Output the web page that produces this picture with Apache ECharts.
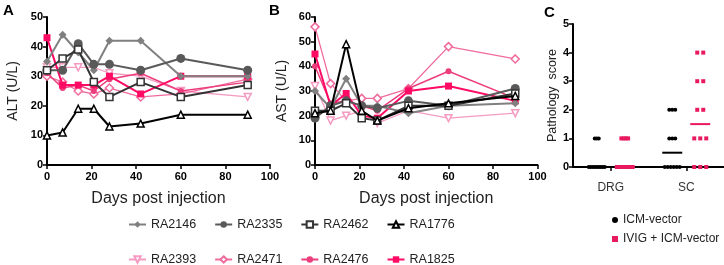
<!DOCTYPE html>
<html>
<head>
<meta charset="utf-8">
<script src="https://cdn.jsdelivr.net/npm/echarts@6/dist/echarts.min.js"></script>
<style>
html,body{margin:0;padding:0;background:#fff;}
#chart{width:724px;height:265px;}
</style>
</head>
<body>
<div id="chart"></div>
<script>
// ---------------- DATA ----------------
const days = [0, 7, 14, 21, 28, 42, 60, 90];
const animals = ['RA2146', 'RA2335', 'RA2462', 'RA1776', 'RA2393', 'RA2471', 'RA2476', 'RA1825'];

// ALT (U/L)
const altRA2146 = [35, 44, 38, 32, 42, 42, 30, 30];
const altRA2335 = [32, 32, 41, 34, 34, 32, 36, 32];
const altRA2462 = [32, 36, 39, 28, 23, 28, 23, 27];
const altRA1776 = [10, 11, 19, 19, 13, 14, 17, 17];
const altRA2393 = [33, 33, 33, 33, 31, 30, 25, 23];
const altRA2471 = [30, 28, 25, 24, 26, 23, 24, 29];
const altRA2476 = [31, 26, 27, 25, 29, 31, 25, 28];
const altRA1825 = [43, 27, 27, 27, 30, 24, 30, 30];

// AST (U/L)
const astRA2146 = [30, 23, 35, 24, 24, 21, 24, 25];
const astRA2335 = [19, 24, 26, 24, 23, 26, 24, 31];
const astRA2462 = [22, 22, 25, 19, 18, 24, 24, 29];
const astRA1776 = [21, 22, 49, 22, 18, 23, 25, 28];
const astRA2393 = [32, 18, 20, 22, 17, 22, 19, 21];
const astRA2471 = [56, 33, 26, 27, 27, 31, 48, 43];
const astRA2476 = [40, 25, 26, 24, 22, 31, 38, 27];
const astRA1825 = [45, 24, 29, 20, 19, 30, 32, 26];

// Pathology scores
const pathCategories = ['DRG', 'SC'];
const pathGroups = ['ICM-vector', 'IVIG + ICM-vector'];
const icmDRG  = [1, 1, 1, 0, 0, 0, 0, 0, 0, 0, 0, 0];
const icmSC   = [2, 2, 2, 1, 1, 1, 0, 0, 0, 0, 0, 0];
const ivigDRG = [1, 1, 1, 1, 0, 0, 0, 0, 0, 0, 0, 0];
const ivigSC  = [4, 4, 3, 3, 2, 2, 1, 1, 1, 0, 0, 0];

const xTicks = [0, 20, 40, 60, 80, 100];

// ---------------- STYLE ----------------
const FONT = 'Liberation Sans, Arial, sans-serif';
const styles = {
  RA2146: {color: '#808080', symbol: 'diamond', size: 8, open: false, lw: 2},
  RA2335: {color: '#595959', symbol: 'circle', size: 9, open: false, lw: 2},
  RA2462: {color: '#333333', symbol: 'rect', size: 7, open: true, lw: 2},
  RA1776: {color: '#000000', symbol: 'triangle', size: 7, open: true, lw: 2},
  RA2393: {color: '#f59bc2', symbol: 'triangle', size: 7, open: true, lw: 1.3, rotate: 180},
  RA2471: {color: '#f06b9d', symbol: 'diamond', size: 8, open: true, lw: 1.3},
  RA2476: {color: '#ec3d7c', symbol: 'circle', size: 6, open: false, lw: 1.5},
  RA1825: {color: '#ff0a64', symbol: 'rect', size: 7, open: false, lw: 2}
};
const altData = {RA2146: altRA2146, RA2335: altRA2335, RA2462: altRA2462, RA1776: altRA1776,
                 RA2393: altRA2393, RA2471: altRA2471, RA2476: altRA2476, RA1825: altRA1825};
const astData = {RA2146: astRA2146, RA2335: astRA2335, RA2462: astRA2462, RA1776: astRA1776,
                 RA2393: astRA2393, RA2471: astRA2471, RA2476: astRA2476, RA1825: astRA1825};
const zOrder = {RA2393: 1, RA2471: 2, RA2476: 3, RA1825: 4, RA2146: 5, RA2335: 6, RA2462: 7, RA1776: 8};

function lineSeries(name, values, axisIdx) {
  const s = styles[name];
  return {
    type: 'line', name: name, xAxisIndex: axisIdx, yAxisIndex: axisIdx,
    data: days.map((d, i) => [d, values[i]]),
    symbol: s.symbol, symbolSize: s.size, symbolRotate: s.rotate || 0,
    showAllSymbol: true,
    lineStyle: {color: s.color, width: s.lw},
    itemStyle: s.open ? {color: '#ffffff', borderColor: s.color, borderWidth: 1.5}
                      : {color: s.color, borderColor: s.color, borderWidth: 0},
    z: 2 + zOrder[name] / 10,
    animation: false,
    emphasis: {disabled: true}
  };
}

const axisLine = {show: true, lineStyle: {color: '#000', width: 2}};
const axisTick = {show: true, length: 4, lineStyle: {color: '#000', width: 1.5}};
const tickLabel = {color: '#000', fontWeight: 'bold', fontSize: 11, fontFamily: FONT};

function valueX(gi) {
  return {
    type: 'value', gridIndex: gi, min: xTicks[0], max: xTicks[xTicks.length - 1],
    interval: xTicks[1] - xTicks[0],
    axisLine: axisLine, axisTick: axisTick, splitLine: {show: false},
    axisLabel: Object.assign({margin: 6}, tickLabel),
    name: 'Days post injection', nameLocation: 'middle', nameGap: 26,
    nameTextStyle: {fontSize: 16, color: '#222', fontFamily: FONT}
  };
}
function valueY(gi, max, interval, name, gap) {
  return {
    type: 'value', gridIndex: gi, min: 0, max: max, interval: interval,
    axisLine: axisLine, axisTick: axisTick, splitLine: {show: false},
    axisLabel: Object.assign({margin: 4}, tickLabel),
    name: name, nameLocation: 'middle', nameGap: gap,
    nameTextStyle: {fontSize: 14, color: '#222', fontFamily: FONT}
  };
}

// ----- Pathology scatter build -----
const groupOffset = [-14, 14];
const groupColor = ['#000000', '#e8195f'];
const groupSymbol = ['circle', 'rect'];
const groupSize = [4, 4];
const groupValues = [[icmDRG, icmSC], [ivigDRG, ivigSC]];

function median(arr) {
  const a = arr.slice().sort((x, y) => x - y);
  const n = a.length;
  return n % 2 ? a[(n - 1) / 2] : (a[n / 2 - 1] + a[n / 2]) / 2;
}

const pathSeries = [];
const medianSeries = [];
groupValues.forEach((byCat, g) => {
  const pts = [];
  const meds = [];
  byCat.forEach((vals, c) => {
    const counts = {};
    vals.forEach(v => counts[v] = (counts[v] || 0) + 1);
    const maxCount = Math.max.apply(null, Object.values(counts));
    const spacing = Math.min(7.5, 18 / maxCount);
    Object.keys(counts).forEach(k => {
      const n = counts[k];
      for (let j = 0; j < n; j++) {
        pts.push({
          value: [pathCategories[c], Number(k)],
          symbolOffset: [groupOffset[g] + (j - (n - 1) / 2) * spacing, 0]
        });
      }
    });
    meds.push({value: [pathCategories[c], median(vals)], symbolOffset: [groupOffset[g], 0]});
  });
  pathSeries.push({
    type: 'scatter', name: pathGroups[g], xAxisIndex: 2, yAxisIndex: 2,
    data: pts, symbol: groupSymbol[g], symbolSize: groupSize[g],
    itemStyle: {color: groupColor[g], opacity: 1}, z: 4, animation: false,
    emphasis: {disabled: true}
  });
  medianSeries.push({
    type: 'scatter', name: pathGroups[g] + ' median', xAxisIndex: 2, yAxisIndex: 2,
    data: meds, symbol: 'rect', symbolSize: [20, 2],
    itemStyle: {color: groupColor[g], opacity: 1}, z: 5, animation: false,
    emphasis: {disabled: true}
  });
});

const series = [];
animals.forEach(a => series.push(lineSeries(a, altData[a], 0)));
animals.forEach(a => series.push(lineSeries(a, astData[a], 1)));
pathSeries.forEach(s => series.push(s));
medianSeries.forEach(s => series.push(s));

const legendCommon = {
  itemWidth: 17, itemHeight: 8, itemGap: 18, padding: 0,
  textStyle: {fontSize: 12.5, color: '#222', fontFamily: FONT, width: 58},
  selectedMode: false
};
const titleStyle = {fontSize: 15, fontWeight: 'bold', color: '#000', fontFamily: FONT};

const option = {
  backgroundColor: '#ffffff',
  animation: false,
  textStyle: {fontFamily: FONT},
  title: [
    {text: 'A', left: 3, top: 3, padding: 0, textStyle: titleStyle},
    {text: 'B', left: 269, top: 3, padding: 0, textStyle: titleStyle},
    {text: 'C', left: 544, top: 5, padding: 0, textStyle: titleStyle}
  ],
  grid: [
    {left: 47, width: 223, top: 17, height: 148},
    {left: 315, width: 222.5, top: 17, height: 148},
    {left: 573, width: 156, top: 24, height: 143}
  ],
  xAxis: [
    valueX(0),
    valueX(1),
    {
      type: 'category', gridIndex: 2, data: pathCategories,
      axisLine: axisLine,
      axisTick: {show: true, alignWithLabel: true, length: 4, lineStyle: {color: '#000', width: 1.5}},
      axisLabel: {color: '#333', fontSize: 12, fontFamily: FONT, margin: 15}
    }
  ],
  yAxis: [
    valueY(0, 50, 10, 'ALT (U/L)', 27),
    valueY(1, 60, 10, 'AST (U/L)', 26),
    Object.assign(valueY(2, 5, 1, 'Pathology  score', 13), {
      nameTextStyle: {fontSize: 12.5, color: '#222', fontFamily: FONT}
    })
  ],
  legend: [
    Object.assign({left: 128, top: 218, data: animals.slice(0, 4)}, legendCommon),
    Object.assign({left: 128, top: 253, data: animals.slice(4, 8)}, legendCommon),
    {
      left: 612, top: 214, orient: 'vertical', itemGap: 7, padding: 0,
      itemWidth: 6, itemHeight: 6, selectedMode: false,
      textStyle: {fontSize: 12, color: '#222', fontFamily: FONT},
      data: pathGroups.map((g, i) => ({name: g, icon: groupSymbol[i]}))
    }
  ],
  series: series
};

const chart = echarts.init(document.getElementById('chart'), null, {renderer: 'canvas'});
chart.setOption(option);
</script>
</body>
</html>
